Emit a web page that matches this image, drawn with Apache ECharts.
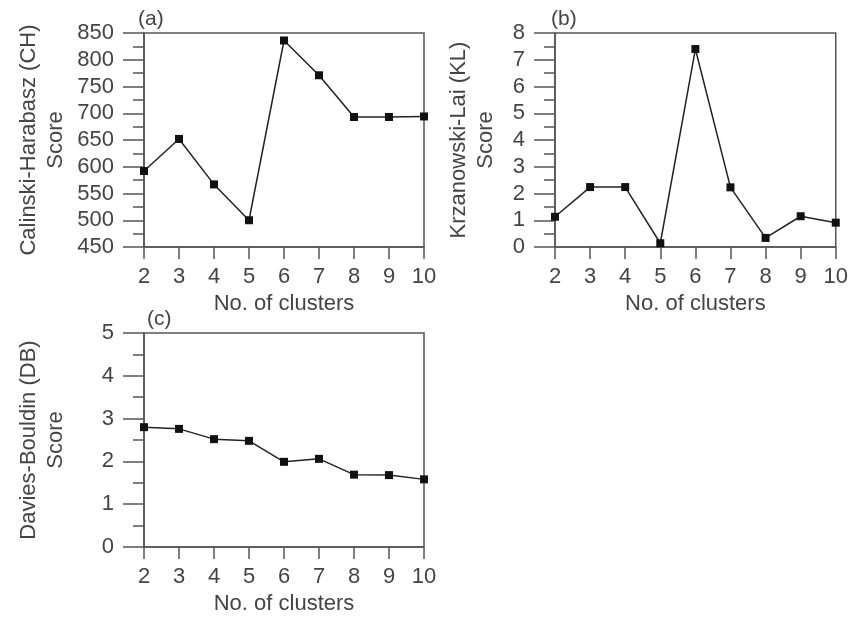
<!DOCTYPE html>
<html>
<head>
<meta charset="utf-8">
<script src="https://cdn.jsdelivr.net/npm/echarts@6/dist/echarts.min.js"></script>
<style>html,body{margin:0;padding:0;background:#fff}#c{width:851px;height:626px}</style>
</head>
<body>
<div id="c"></div>
<script>
var clusters = [2, 3, 4, 5, 6, 7, 8, 9, 10];
var chScore = [592, 652, 567, 500, 836, 771, 693, 693, 694];
var klScore = [1.13, 2.24, 2.24, 0.14, 7.40, 2.23, 0.34, 1.15, 0.91];
var dbScore = [2.80, 2.76, 2.52, 2.48, 1.99, 2.06, 1.69, 1.68, 1.58];
var panelLabels = ['(a)', '(b)', '(c)'];
var yNames = ['Calinski-Harabasz (CH)\nScore', 'Krzanowski-Lai (KL)\nScore', 'Davies-Bouldin (DB)\nScore'];
var xName = 'No. of clusters';

var FONT = 'Liberation Sans, Arial, sans-serif';
var TXT = '#444';
var AX = '#555';

function pairs(vals) { return clusters.map(function (c, i) { return [c, vals[i]]; }); }

var grids = [
  { left: 144, top: 33, width: 280, height: 214 },
  { left: 555, top: 33, width: 281, height: 214 },
  { left: 144, top: 333, width: 280, height: 214 }
];
var yRanges = [[450, 850, 50], [0, 8, 1], [0, 5, 1]];
var yNameGaps = [75, 56, 75];
var seriesVals = [chScore, klScore, dbScore];
var titlePos = [[133, 4], [546, 4], [142, 304]];

var option = {
  animation: false,
  backgroundColor: '#fff',
  title: panelLabels.map(function (t, i) {
    return { text: t, left: titlePos[i][0], top: titlePos[i][1],
      textStyle: { fontFamily: FONT, fontSize: 21, fontWeight: 'normal', color: TXT } };
  }),
  grid: grids.map(function (g) {
    return { left: g.left, top: g.top, width: g.width, height: g.height, show: true,
      borderColor: AX, borderWidth: 1.5, backgroundColor: 'transparent' };
  }),
  xAxis: grids.map(function (g, i) {
    return {
      type: 'value', gridIndex: i, min: 2, max: 10, interval: 1,
      name: xName, nameLocation: 'middle', nameGap: 46,
      nameTextStyle: { fontFamily: FONT, fontSize: 22, color: TXT },
      axisLine: { show: true, lineStyle: { color: AX, width: 1.5 } },
      axisTick: { show: true, length: 12, lineStyle: { color: AX, width: 1.5 } },
      axisLabel: { fontFamily: FONT, fontSize: 22, color: TXT, margin: 19 },
      splitLine: { show: false }
    };
  }),
  yAxis: grids.map(function (g, i) {
    var r = yRanges[i];
    return {
      type: 'value', gridIndex: i, min: r[0], max: r[1], interval: r[2],
      name: yNames[i], nameLocation: 'middle', nameGap: yNameGaps[i], nameRotate: 90,
      nameTextStyle: { fontFamily: FONT, fontSize: 22, color: TXT, lineHeight: 27 },
      axisLine: { show: true, lineStyle: { color: AX, width: 1.5 } },
      axisTick: { show: true, length: 21, lineStyle: { color: AX, width: 1.5 } },
      minorTick: { show: true, splitNumber: 2, length: 11, lineStyle: { color: AX, width: 1.5 } },
      axisLabel: { fontFamily: FONT, fontSize: 22, color: TXT, margin: 30 },
      splitLine: { show: false }
    };
  }),
  series: seriesVals.map(function (v, i) {
    return {
      type: 'line', xAxisIndex: i, yAxisIndex: i, data: pairs(v),
      symbol: 'rect', symbolSize: 8,
      itemStyle: { color: '#111' },
      lineStyle: { color: '#222', width: 1.5 }
    };
  })
};

var chart = echarts.init(document.getElementById('c'), null, { renderer: 'canvas' });
chart.setOption(option);
</script>
</body>
</html>
